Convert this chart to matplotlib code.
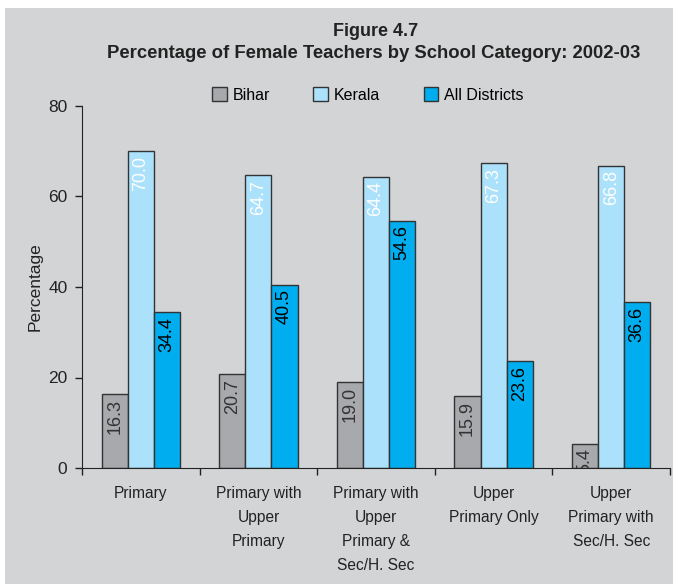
import matplotlib.pyplot as plt
import matplotlib.patches as mpatches
import numpy as np

categories = ['Primary', 'Primary with\nUpper\nPrimary', 'Primary with\nUpper\nPrimary &\nSec/H. Sec',
              'Upper\nPrimary Only', 'Upper\nPrimary with\nSec/H. Sec']
bihar = [16.3, 20.7, 19.0, 15.9, 5.4]
kerala = [70.0, 64.7, 64.4, 67.3, 66.8]
all_districts = [34.4, 40.5, 54.6, 23.6, 36.6]

series = [('Bihar', bihar, '#a7a9ac', '#333333'),
          ('Kerala', kerala, '#abe1fa', 'white'),
          ('All Districts', all_districts, '#00aeef', 'black')]

plt.rcParams['font.family'] = ['Liberation Sans', 'DejaVu Sans']

bg = '#d3d4d6'
fig = plt.figure(figsize=(6.73, 5.84), dpi=100, facecolor='white')
fig.patches.append(mpatches.Rectangle((5/673, 0), 1, 1 - 8/584, transform=fig.transFigure,
                                      facecolor=bg, edgecolor='none', zorder=-10))

ax = fig.add_axes([82/673, 1 - 468/584, 588/673, 362/584])
ax.set_facecolor('none')

x = np.arange(len(categories))
w = 0.222
for i, (name, vals, col, tcol) in enumerate(series):
    pos = x + (i - 1) * w
    ax.bar(pos, vals, w, color=col, edgecolor='#333333', linewidth=1, label=name)
    for p, v in zip(pos, vals):
        ax.text(p, v - 1.0, f'{v:.1f}', rotation=90, ha='center', va='top',
                fontsize=13, color=tcol, clip_on=True)

ax.set_xlim(-0.5, len(categories) - 0.5)
ax.set_ylim(0, 80)
ax.set_yticks([0, 20, 40, 60, 80])
ax.set_xticks(np.arange(len(categories) + 1) - 0.5)
ax.set_xticklabels([])
ax.set_xticks(x, minor=True)
ax.set_xticklabels(categories, minor=True, fontsize=11.2, color='#222222', linespacing=1.75)
ax.tick_params(axis='x', which='minor', length=0, pad=13)
ax.tick_params(axis='x', which='major', length=5, width=1, color='#222222')
ax.tick_params(axis='y', length=5, width=1, color='#222222', pad=5.5, labelsize=12.5, labelcolor='#222222')
for s in ['top', 'right']:
    ax.spines[s].set_visible(False)
for s in ['left', 'bottom']:
    ax.spines[s].set_color('#222222')
ax.set_ylabel('Percentage', fontsize=12.5, color='#222222', labelpad=4)

fig.text(376/673, 1 - 31/584, 'Figure 4.7', ha='center', va='center',
         fontsize=13, fontweight='bold', color='#222222')
fig.text(374/673, 1 - 53/584, 'Percentage of Female Teachers by School Category: 2002-03',
         ha='center', va='center', fontsize=13.3, fontweight='bold', color='#222222')

fig.legend(loc='center', bbox_to_anchor=(368/673, 1 - 95/584), ncol=3, frameon=False,
           fontsize=11.5, handlelength=0.9, handleheight=0.9, columnspacing=2.7,
           handletextpad=0.4)

fig.savefig('out.png', dpi=100, facecolor='white')
